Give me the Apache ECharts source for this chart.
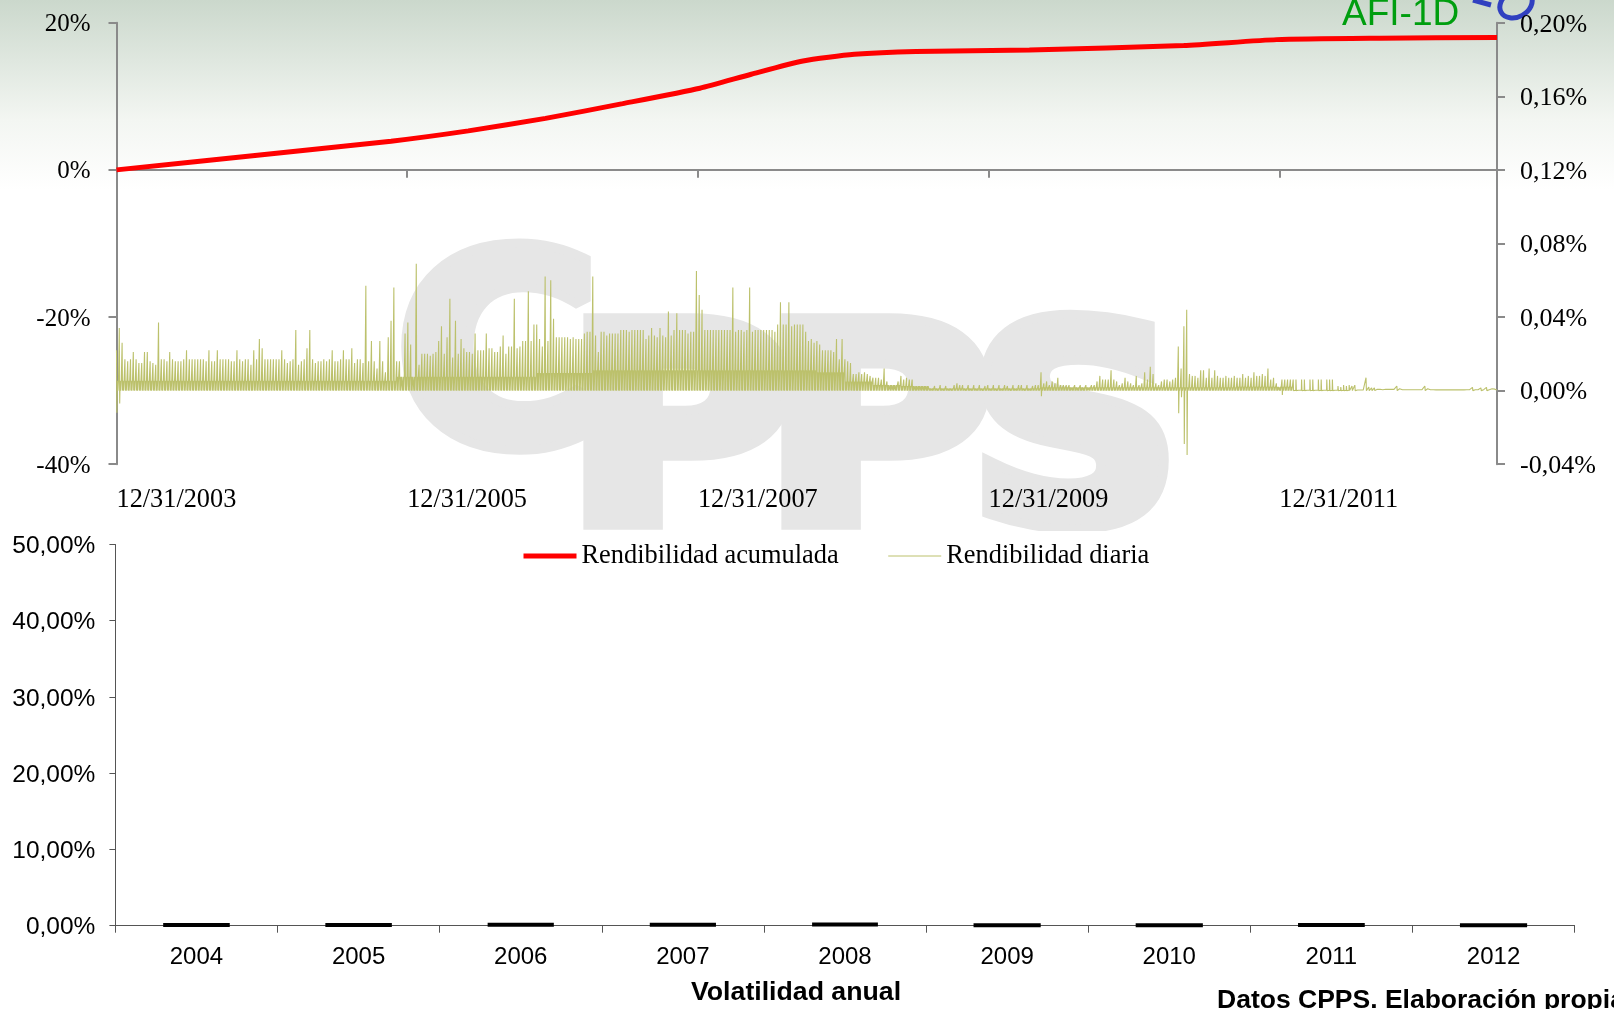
<!DOCTYPE html>
<html>
<head>
<meta charset="utf-8">
<title>AFI-1D</title>
<script src="https://cdn.jsdelivr.net/npm/echarts@6/dist/echarts.min.js"></script>
<style>
    html, body { margin: 0; padding: 0; overflow: hidden; background: #fff; }
    #chart { width: 1614px; height: 1009px; background: linear-gradient(to bottom, #cbd8cc 0, #f3f6f2 120px, #ffffff 190px); }
</style>
</head>
<body>
<div id="chart"></div>
<script>
    // Rendibilidad acumulada (%): dias desde 12/31/2003
    const cumDays = [0, 354, 690, 884, 1078, 1272, 1466, 1595, 1725, 1854, 2009, 2294, 2682, 2915, 3174, 3469];
    const cumValues = [0, 2.0, 3.9, 5.3, 7.0, 9.0, 11.1, 13.0, 14.8, 15.7, 16.1, 16.3, 16.9, 17.7, 17.9, 18.0];

    // Rendibilidad diaria: pico de cada semana, en milesimas de punto porcentual
    const weeklyTops = [
        22,34,26,17,16,17,21,17,15,15, 21,21,16,15,14,37,17,17,16,21,
        17,16,16,16,17,22,17,17,17,17, 17,17,16,22,16,16,22,17,17,17,
        17,16,16,22,17,16,17,17,14,22,
        17,28,23,17,17,17,17,17,17,22, 17,15,16,17,33,14,16,17,23,33,
        17,15,16,16,17,16,17,22,16,16, 17,22,17,17,23,15,17,17,15,57,
        16,27,16,12,27,16,10,29,38,56,
        16,16,8,31,37,25,3,69,14,20, 20,20,19,20,21,27,35,20,29,50,
        18,38,20,28,23,21,21,20,31,22, 22,22,31,23,23,21,21,24,30,20,
        24,24,50,23,24,27,27,54,27,36,
        36,28,24,62,27,60,39,29,29,29, 29,29,28,29,28,28,28,31,32,32,
        62,30,21,32,32,30,31,31,31,31, 33,33,33,32,33,33,33,33,33,28,
        30,34,30,29,34,30,29,43,30,33,
        42,33,33,33,31,32,32,65,52,44, 33,33,33,33,33,33,33,33,33,33,
        56,32,33,33,32,33,56,32,33,33, 33,33,33,33,33,32,36,48,36,36,
        48,35,36,36,36,36,32,27,28,26,
        27,25,22,22,22,22,21,28,17,28, 17,16,15,9,9,10,9,10,9,8,
        7,7,7,6,12,5,4,4,3,5, 8,6,7,6,6,3,2,2.5,2,3,
        2,2,2.5,2,3,2,2.5,2,2,3,
        4,3,3,2,3,2,3,2,3,2, 2.5,3,2,3,2,3,2,3,2.5,2,
        3,2,3,3,2,3,2,2.5,3,3, 10,4,5,3,5,4,7,3,3,3,
        3,2.5,3,2.5,3,2.5,3,2.5,3,3,
        5,8,6,6,6,11,6,5,3,4, 7,5,4,3,8,3,4,10,6,13,
        9,4,3,5,6,6,5,6,7,24, 12,35,44,9,8,8,7,11,11,7,
        12,7,11,8,7,7,8,7,7,8,
        7,7,9,7,8,7,10,8,8,9, 8,12,6,7,4,3,6,6,6,6,
        6,6,0.3,6,6,0.3,6,6,0.3,6, 6,0.3,6,6,6,0.5,2.5,2,3,2.5,
        3,2.5,3,0.3,0.3,0.3,7,2,1.5,1.5,
        0.7,0.7,0.5,0.7,0.7,0.7,0.7,2.5,1,0.5, 0.5,0.5,0.5,0.5,0.5,0.5,0.5,2.5,1,0.5,
        0.5,0.4,0.5,0.4,0.5,0.4,0.5,0.4,0.5,0.4, 0.5,0.4,0.5,0.5,1.8,0.5,0.5,1.5,0.5,1.8,
        0.5,1,0.8
    ];
    // nivel habitual de la rendibilidad diaria, uno por cada 10 semanas
    const midLevels = [
        5.4,5.4,5.4,5.4,5.4,5.4,5.4,5.4,5.4,5.4,
        7.5,7.5,7.5,7.5,7.5,9.5,9.5,11,11,11,
        11,11,11,11,11,10,5,3,2.5,1.2,
        1.2,1.2,1.2,1.8,1.8,1.8,1.8,1.8,1.8,1.8,
        2,2,0.2,0.2,0.8,0.3,0.3,0.3,0.3,0.3
    ];
    // semanas con dato negativo
    const dipWeeks = [0, 1, 330, 379, 380, 381, 382, 416];
    const dipValues = [-12, -7, -3, -12.3, -3.6, -29, -35, -2.4];

    const volYears = ['2004', '2005', '2006', '2007', '2008', '2009', '2010', '2011', '2012'];
    const volValues = [0.2, 0.21, 0.25, 0.25, 0.3, 0.12, 0.12, 0.18, 0.12];

    const tickDates = ['12/31/2003', '12/31/2005', '12/31/2007', '12/31/2009', '12/31/2011'];

    const TWO_YEARS = 730.5;
    const DAYS_PER_WEEK = 7.04;

    const serif = '"Liberation Serif", "Times New Roman", serif';
    const sans = '"Liberation Sans", Arial, sans-serif';
    const grayAxis = '#8a8a8a';

    const dailyPoints = [];
    weeklyTops.forEach(function (top, w) {
        const d = w * DAYS_PER_WEEK;
        const mid = midLevels[Math.floor(w / 10)] / 1000;
        const dip = dipWeeks.indexOf(w);
        dailyPoints.push([d, top / 1000]);
        dailyPoints.push([d + 1, dip >= 0 ? dipValues[dip] / 1000 : 0]);
        dailyPoints.push([d + 2, mid]);
        dailyPoints.push([d + 3.5, 0]);
        dailyPoints.push([d + 5, mid]);
        dailyPoints.push([d + 6.5, mid]);
    });

    function wmLetter(ch, x, y, size, sx) {
        return {
            type: 'text', x: x, y: y, scaleX: sx, silent: true, z: -5,
            style: {
                text: ch, fill: '#e6e6e6', stroke: '#e6e6e6', lineWidth: 18,
                font: 'bold ' + size + 'px "DejaVu Sans"'
            }
        };
    }

    // las etiquetas de los ejes Y van 2px por debajo de la marca
    function lowered(text) {
        return '{a|' + text + '}';
    }
    function pctComma(v) {
        return v.toFixed(2).replace('.', ',') + '%';
    }

    const chart = echarts.init(document.getElementById('chart'), null, { renderer: 'canvas' });
    chart.setOption({
        animation: false,
        backgroundColor: 'transparent',
        graphic: [
            wmLetter('C', 397, 243, 262, 1.05),
            wmLetter('P', 565, 314, 272, 1.15),
            wmLetter('P', 763, 314, 272, 1.15),
            wmLetter('S', 969, 314, 272, 1.08),
            { type: 'rect', silent: true, z: -4, shape: { x: 0, y: 531, width: 1614, height: 478 }, style: { fill: '#fff' } },
            {
                type: 'text', x: 1342, y: -4, silent: true,
                style: { text: 'AFI-1D', fill: '#009e0f', font: '37px ' + sans }
            },
            {
                type: 'ellipse', silent: true, rotation: 0.5,
                x: 1516, y: 4, shape: { cx: 0, cy: 0, rx: 17, ry: 13 },
                style: { fill: 'none', stroke: '#3040c0', lineWidth: 5 }
            },
            {
                type: 'polyline', silent: true,
                shape: { points: [[1473, 0], [1491, 5]] },
                style: { stroke: '#3040c0', lineWidth: 5, fill: 'none' }
            },
            {
                type: 'text', x: 691, y: 979, silent: true,
                style: { text: 'Volatilidad anual', fill: '#000', font: 'bold 26.7px ' + sans }
            },
            {
                type: 'text', x: 1217, y: 987, silent: true,
                style: { text: 'Datos CPPS. Elaboración propia', fill: '#000', font: 'bold 26.5px ' + sans }
            }
        ],
        legend: {
            left: 516,
            top: 538,
            itemWidth: 53,
            itemHeight: 14,
            itemGap: 49,
            textStyle: { fontFamily: serif, fontSize: 26.4, color: '#000' },
            data: [
                { name: 'Rendibilidad acumulada', itemStyle: { opacity: 0 }, lineStyle: { width: 5, color: '#ff0000' } },
                { name: 'Rendibilidad diaria', itemStyle: { opacity: 0 }, lineStyle: { width: 1, color: '#bcc16c' } }
            ]
        },
        grid: [
            { left: 116.5, width: 1380.5, top: 22.7, height: 441.5 },
            { left: 115.4, width: 1459.2, top: 544.5, height: 381.2 }
        ],
        xAxis: [
            {
                type: 'value', gridIndex: 0, min: 0, max: 3469, interval: TWO_YEARS,
                axisLine: { onZero: true, onZeroAxisIndex: 0, lineStyle: { color: grayAxis, width: 2 } },
                axisTick: { show: true, length: 8, lineStyle: { color: grayAxis, width: 2 } },
                axisLabel: {
                    show: true, margin: 23, align: 'left', verticalAlign: 'top',
                    fontFamily: serif, fontSize: 26.3, color: '#000',
                    formatter: function (v) {
                        const i = v / TWO_YEARS;
                        return Number.isInteger(i) ? tickDates[i] : '';
                    }
                },
                splitLine: { show: false }
            },
            {
                type: 'category', gridIndex: 1, data: volYears, boundaryGap: true,
                axisLine: { lineStyle: { color: '#555', width: 1 } },
                axisTick: { show: true, length: 7, alignWithLabel: false, lineStyle: { color: '#555' } },
                axisLabel: { margin: 20, fontFamily: sans, fontSize: 24, color: '#000', interval: 0 }
            }
        ],
        yAxis: [
            {
                type: 'value', gridIndex: 0, min: -40, max: 20, interval: 20,
                axisLine: { show: true, onZero: false, lineStyle: { color: grayAxis, width: 2 } },
                axisTick: { show: true, length: 8, lineStyle: { color: grayAxis, width: 2 } },
                axisLabel: {
                    margin: 26,
                    rich: { a: { fontFamily: serif, fontSize: 25, color: '#000', padding: [4, 0, 0, 0] } },
                    formatter: function (v) { return lowered(v + '%'); }
                },
                splitLine: { show: false }
            },
            {
                type: 'value', gridIndex: 0, position: 'right', min: -0.04, max: 0.2, interval: 0.04,
                axisLine: { show: true, onZero: false, lineStyle: { color: grayAxis, width: 2 } },
                axisTick: { show: true, length: 8, lineStyle: { color: grayAxis, width: 2 } },
                axisLabel: {
                    margin: 23,
                    rich: { a: { fontFamily: serif, fontSize: 26, color: '#000', padding: [4, 0, 0, 0] } },
                    formatter: function (v) { return lowered(pctComma(v)); }
                },
                splitLine: { show: false }
            },
            {
                type: 'value', gridIndex: 1, min: 0, max: 50, interval: 10,
                axisLine: { show: true, onZero: false, lineStyle: { color: '#555', width: 1 } },
                axisTick: { show: true, length: 6, lineStyle: { color: '#555' } },
                axisLabel: {
                    margin: 20,
                    rich: { a: { fontFamily: sans, fontSize: 24.5, color: '#000', padding: [4, 0, 0, 0] } },
                    formatter: function (v) { return lowered(pctComma(v)); }
                },
                splitLine: { show: false }
            }
        ],
        series: [
            {
                name: 'Rendibilidad diaria', type: 'line', xAxisIndex: 0, yAxisIndex: 1,
                data: dailyPoints, showSymbol: false, symbol: 'none', sampling: false, progressive: 0,
                lineStyle: { color: '#bcc16c', width: 1.1 }, itemStyle: { color: '#bcc16c' }, z: 2
            },
            {
                name: 'Rendibilidad acumulada', type: 'line', xAxisIndex: 0, yAxisIndex: 0,
                data: cumDays.map(function (d, i) { return [d, cumValues[i]]; }),
                showSymbol: false, symbol: 'none', smooth: 0.2,
                lineStyle: { color: '#ff0000', width: 5 }, itemStyle: { color: '#ff0000' }, z: 3
            },
            {
                name: 'Volatilidad', type: 'bar', xAxisIndex: 1, yAxisIndex: 2,
                data: volValues, barWidth: '42%',
                itemStyle: { color: '#000', borderColor: '#000', borderWidth: 4 }
            }
        ]
    });
</script>
</body>
</html>
